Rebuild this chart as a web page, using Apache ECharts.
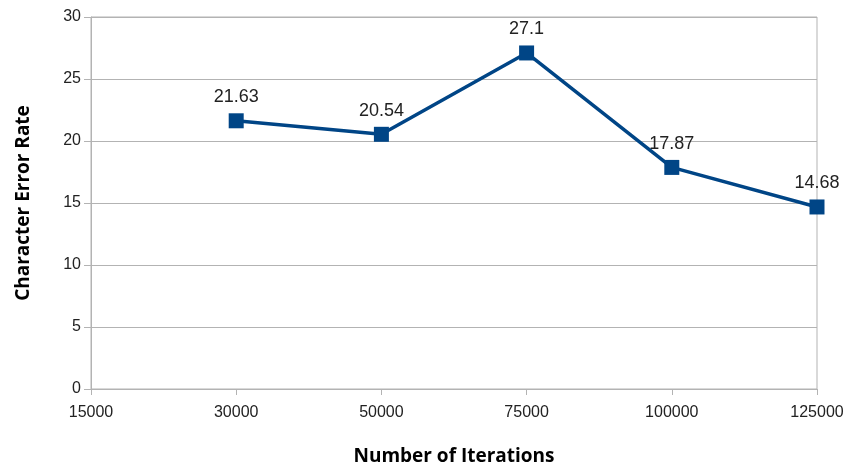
<!DOCTYPE html>
<html>
<head>
<meta charset="utf-8">
<script src="https://cdn.jsdelivr.net/npm/echarts@6/dist/echarts.min.js"></script>
<style>html,body{margin:0;padding:0;background:#fff;}#c{width:850px;height:467px;}</style>
</head>
<body>
<div id="c"></div>
<script>
const categories = ['15000', '30000', '50000', '75000', '100000', '125000'];
const cerValues = [null, 21.63, 20.54, 27.1, 17.87, 14.68];
const yTicks = { min: 0, max: 30, interval: 5 };

const chart = echarts.init(document.getElementById('c'));
chart.setOption({
  animation: false,
  backgroundColor: '#ffffff',
  grid: { left: 91, right: 33, top: 17, bottom: 78, containLabel: false, outerBoundsMode: 'none', show: true, borderColor: '#b3b3b3', borderWidth: 1, backgroundColor: 'transparent' },
  xAxis: {
    type: 'category',
    data: categories,
    boundaryGap: false,
    name: 'Number of Iterations',
    nameLocation: 'middle',
    nameGap: 58,
    nameTextStyle: { fontFamily: 'Open Sans', fontWeight: 'bold', fontSize: 19, color: '#000' },
    axisLine: { lineStyle: { color: '#b3b3b3', width: 1 } },
    axisTick: { show: true, alignWithLabel: true, length: 6, lineStyle: { color: '#b3b3b3' } },
    axisLabel: { fontFamily: 'Liberation Sans', fontSize: 16, color: '#222', margin: 16 },
    splitLine: { show: false }
  },
  yAxis: {
    type: 'value',
    min: yTicks.min, max: yTicks.max, interval: yTicks.interval,
    name: 'Character Error Rate',
    nameLocation: 'middle',
    nameGap: 58,
    nameTextStyle: { fontFamily: 'Open Sans', fontWeight: 'bold', fontSize: 19, color: '#000' },
    axisLine: { show: true, lineStyle: { color: '#b3b3b3', width: 1 } },
    axisTick: { show: true, length: 7, lineStyle: { color: '#b3b3b3' } },
    axisLabel: { fontFamily: 'Liberation Sans', fontSize: 16, color: '#222', margin: 10 },
    splitLine: { show: true, lineStyle: { color: '#b3b3b3', width: 1 } }
  },
  series: [{
    type: 'line',
    data: cerValues,
    connectNulls: false,
    symbol: 'rect',
    symbolSize: 15,
    itemStyle: { color: '#004586' },
    lineStyle: { color: '#004586', width: 3.5 },
    label: {
      show: true,
      position: 'top',
      distance: 7,
      fontFamily: 'Liberation Sans',
      fontSize: 18,
      color: '#222'
    }
  }]
});
</script>
</body>
</html>
